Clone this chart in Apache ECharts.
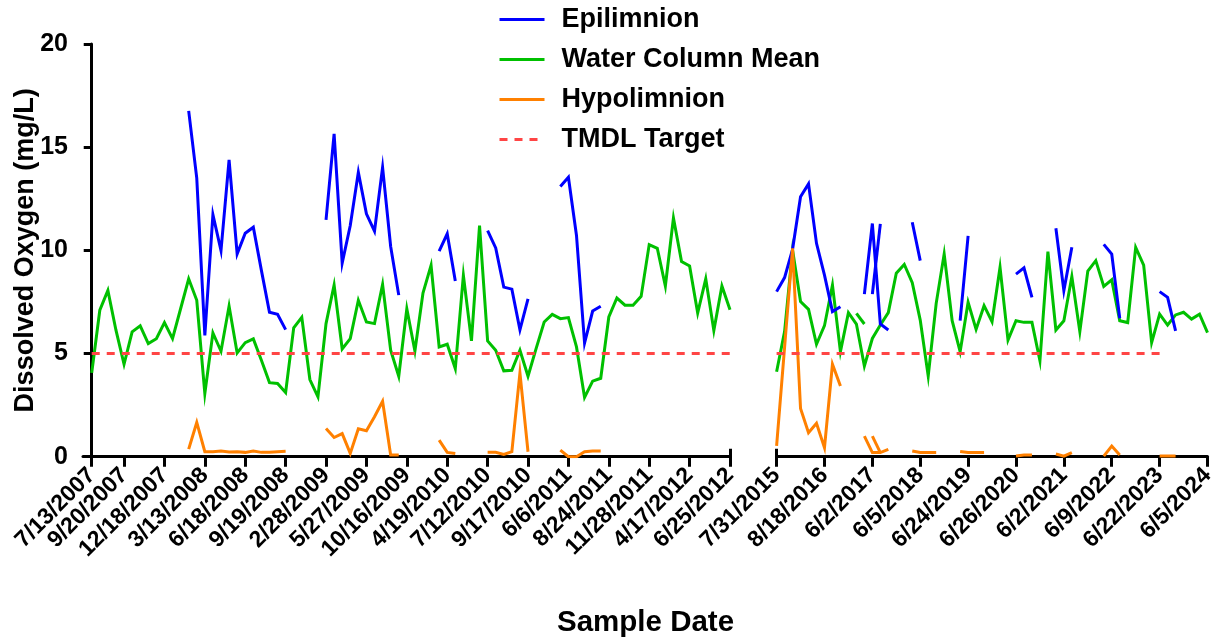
<!DOCTYPE html>
<html><head><meta charset="utf-8">
<script src="https://cdn.jsdelivr.net/npm/echarts@6/dist/echarts.min.js"></script>
<style>html,body{margin:0;padding:0;background:#fff}#c{width:1225px;height:641px}</style>
</head><body><div id="c"></div>
<script>
// ---------- Data ----------
// Left panel: 80 samples, 7/13/2007 .. 6/25/2012
const leftTickIdx = [0,4,9,14,19,24,29,34,39,44,49,54,59,64,69,74,79];
const leftTickLabels = ['7/13/2007','9/20/2007','12/18/2007','3/13/2008','6/18/2008','9/19/2008','2/28/2009','5/27/2009','10/16/2009','4/19/2010','7/12/2010','9/17/2010','6/6/2011','8/24/2011','11/28/2011','4/17/2012','6/25/2012'];

const leftWaterColumn = [
 4.06,7.10,8.06,6.13,4.48,6.05,6.34,5.48,5.72,6.50,
 5.72,7.17,8.62,7.58,3.06,6.00,5.11,7.30,5.03,5.53,
 5.71,4.67,3.59,3.55,3.11,6.24,6.75,3.74,2.90,6.45,
 8.32,5.22,5.72,7.58,6.53,6.45,8.35,5.16,3.90,7.17,
 5.12,7.93,9.27,5.32,5.45,4.27,8.79,5.61,11.20,5.61,
 5.16,4.16,4.19,5.16,3.90,5.24,6.53,6.90,6.69,6.74,
 5.32,2.87,3.66,3.80,6.77,7.69,7.34,7.34,7.77,10.28,
 10.10,8.27,11.57,9.46,9.24,6.96,8.62,6.12,8.27,7.12
];
const leftEpilimnion = [
 null,null,null,null,null,null,null,null,null,null,null,null,
 16.76,13.50,5.88,11.73,9.99,14.38,9.83,10.83,11.12,9.03,7.00,6.90,6.16,
 null,null,null,null,
 11.48,15.64,9.38,11.20,13.78,11.77,10.93,14.02,10.19,7.83,
 null,null,null,null,
 9.96,10.80,8.51,
 null,null,null,
 10.96,10.12,8.22,8.12,6.15,7.65,
 null,null,null,
 13.09,13.54,10.72,5.51,7.06,7.29,
 null,null,null,null,null,null,null,null,null,null,null,null,null,null,null,null
];
const leftHypolimnion = [
 null,null,null,null,null,null,null,null,null,null,null,null,
 0.37,1.66,0.24,0.24,0.27,0.23,0.24,0.21,0.27,0.21,0.21,0.24,0.26,
 null,null,null,null,
 1.37,0.93,1.12,0.16,1.35,1.26,1.94,2.69,0.08,0.08,
 null,null,null,null,
 0.80,0.21,0.16,
 null,null,null,
 0.21,0.21,0.11,0.24,4.06,0.24,
 null,null,null,
 0.32,0.00,0.00,0.24,0.28,0.28,
 null,null,null,null,null,null,null,null,null,null,null,null,null,null,null,null
];

// Right panel: 55 samples, 7/31/2015 .. 6/5/2024
const rightTickIdx = [0,6,12,18,24,30,36,42,48,54];
const rightTickLabels = ['7/31/2015','8/18/2016','6/2/2017','6/5/2018','6/24/2019','6/26/2020','6/2/2021','6/9/2022','6/22/2023','6/5/2024'];

const rightWaterColumn = [
 4.12,6.06,10.02,7.52,7.14,5.45,6.35,8.32,5.09,6.98,
 6.43,4.39,5.73,6.38,6.98,8.89,9.32,8.43,6.62,3.91,
 7.43,9.82,6.59,5.09,7.48,6.17,7.32,6.54,9.18,5.65,
 6.59,6.51,6.51,4.65,9.94,6.14,6.59,8.73,6.06,9.00,
 9.50,8.25,8.57,6.59,6.50,10.14,9.28,5.53,6.91,6.38,
 6.87,7.00,6.67,6.91,6.01
];
const rightEpilimnion = [
 8.00,8.68,10.05,12.60,13.22,10.34,8.80,7.03,7.27,
 null,null,
 7.88,11.30,6.43,6.14,
 null,null,
 11.36,9.50,
 null,null,null,null,
 6.59,10.70,
 null,null,null,null,null,
 8.85,9.15,7.72,
 null,null,
 11.07,8.05,10.15,
 null,null,null,
 10.29,9.82,6.71,
 null,null,null,null,
 8.00,7.72,6.10,
 null,null,null,null
];
const rightHypolimnion = [
 0.52,5.30,10.10,2.34,1.16,1.62,0.44,4.48,3.43,
 null,null,
 1.00,0.20,0.20,0.36,
 null,null,
 0.28,0.20,0.20,0.20,
 null,null,
 0.25,0.20,0.20,0.20,
 null,null,null,
 0.03,0.08,0.08,
 null,null,
 0.13,0.03,0.20,
 null,null,null,
 0.03,0.52,0.08,
 null,null,null,null,
 0.03,0.03,0.03,
 null,null,null,null
];
// Repeated-date short segments in the right panel (start index + values)
const rightEpiRepeat = {start: 12, values: [7.88, 11.28]};
const rightHypoRepeat = {start: 12, values: [1.00, 0.20]};
const rightWcmRepeat = {start: 10, values: [6.95, 6.43]};

const tmdlTarget = 5;
const tmdlLeftEnd = '6/25/2012';
const tmdlRightEnd = '6/22/2023';

// ---------- Chart ----------
const FONT = 'Liberation Sans, Arial, sans-serif';
const C_EPI = '#0000ff', C_WCM = '#00c000', C_HYP = '#ff8000', C_TMDL = '#ff4545';

const pairs = arr => arr.map((v, i) => [i, v]);
const repeatPairs = r => r.values.map((v, k) => [r.start + k, v]);

const leftEndIdx = leftTickIdx[leftTickLabels.indexOf(tmdlLeftEnd)];
const rightEndIdx = rightTickIdx[rightTickLabels.indexOf(tmdlRightEnd)];
const leftLast = leftWaterColumn.length - 1;
const rightLast = rightWaterColumn.length - 1;

function xAxisFor(grid, min, max, idx, labels) {
  return {
    type: 'value', gridIndex: grid, min: min, max: max,
    splitLine: {show: false},
    axisLine: {show: true, onZero: false, lineStyle: {color: '#000', width: 3}},
    axisTick: {show: true, length: 10, lineStyle: {color: '#000', width: 3}, customValues: idx},
    axisLabel: {
      customValues: idx, rotate: 45, margin: 15, hideOverlap: false,
      showMinLabel: true, showMaxLabel: true,
      fontFamily: FONT, fontWeight: 'bold', fontSize: 23, color: '#000',
      formatter: v => labels[idx.indexOf(Math.round(v))] || ''
    }
  };
}
// axis-break marker: an inward tick at the broken end of each panel
function breakAxis(grid, min, max, at) {
  return {
    type: 'value', gridIndex: grid, min: min, max: max, position: 'bottom',
    splitLine: {show: false}, axisLabel: {show: false},
    axisLine: {show: false, onZero: false},
    axisTick: {show: true, inside: true, length: 8, customValues: [at], lineStyle: {color: '#000', width: 3}}
  };
}

function lineSeries(name, color, grid, data, extra) {
  return Object.assign({
    name: name, type: 'line', xAxisIndex: grid, yAxisIndex: grid,
    data: data, symbol: 'none', showSymbol: false, connectNulls: false,
    lineStyle: {color: color, width: 3, join: 'miter'}, itemStyle: {color: color},
    animation: false
  }, extra || {});
}

const chart = echarts.init(document.getElementById('c'), null, {renderer: 'canvas'});
chart.setOption({
  backgroundColor: '#fff',
  animation: false,
  title: {
    text: 'Sample Date', left: 552, top: 603,
    textStyle: {fontFamily: FONT, fontWeight: 'bold', fontSize: 29.5, color: '#000'}
  },
  legend: {
    data: ['Epilimnion', 'Water Column Mean', 'Hypolimnion', 'TMDL Target'],
    orient: 'vertical', left: 493, top: 1, padding: 5,
    itemWidth: 45, itemHeight: 26, itemGap: 13,
    itemStyle: {opacity: 0},
    lineStyle: {width: 3},
    textStyle: {fontFamily: FONT, fontWeight: 'bold', fontSize: 27, color: '#000', padding: [0, 0, 0, 12]}
  },
  grid: [
    {left: 83, right: 495, top: 44, bottom: 184.3, outerBoundsMode: 'none', containLabel: false},
    {left: 776.6, right: 17.5, top: 44, bottom: 184.3, outerBoundsMode: 'none', containLabel: false}
  ],
  xAxis: [
    xAxisFor(0, -1.08, leftLast, leftTickIdx, leftTickLabels),
    xAxisFor(1, 0, rightLast, rightTickIdx, rightTickLabels),
    breakAxis(0, -1.08, leftLast, leftLast),
    breakAxis(1, 0, rightLast, 0)
  ],
  yAxis: [
    {
      type: 'value', gridIndex: 0, min: 0, max: 20, interval: 5,
      name: 'Dissolved Oxygen (mg/L)', nameLocation: 'middle', nameGap: 44, nameRotate: 90,
      nameMoveOverlap: false,
      nameTextStyle: {fontFamily: FONT, fontWeight: 'bold', fontSize: 27, color: '#000'},
      splitLine: {show: false},
      axisLine: {show: true, lineStyle: {color: '#000', width: 3}},
      axisTick: {show: true, length: 8, lineStyle: {color: '#000', width: 3}},
      axisLabel: {margin: 15, fontFamily: FONT, fontWeight: 'bold', fontSize: 25, color: '#000'}
    },
    {type: 'value', gridIndex: 1, min: 0, max: 20, interval: 5, show: false}
  ],
  series: [
    lineSeries('Water Column Mean', C_WCM, 0, pairs(leftWaterColumn)),
    lineSeries('Epilimnion', C_EPI, 0, pairs(leftEpilimnion)),
    lineSeries('Hypolimnion', C_HYP, 0, pairs(leftHypolimnion)),
    lineSeries('TMDL Target', C_TMDL, 0, [[0, tmdlTarget], [leftEndIdx, tmdlTarget]],
      {lineStyle: {color: C_TMDL, width: 3, type: [8, 7]}}),
    lineSeries('Water Column Mean', C_WCM, 1, pairs(rightWaterColumn)),
    lineSeries('Water Column Mean', C_WCM, 1, repeatPairs(rightWcmRepeat)),
    lineSeries('Epilimnion', C_EPI, 1, pairs(rightEpilimnion)),
    lineSeries('Epilimnion', C_EPI, 1, repeatPairs(rightEpiRepeat)),
    lineSeries('Hypolimnion', C_HYP, 1, pairs(rightHypolimnion)),
    lineSeries('Hypolimnion', C_HYP, 1, repeatPairs(rightHypoRepeat)),
    lineSeries('TMDL Target', C_TMDL, 1, [[0, tmdlTarget], [rightEndIdx, tmdlTarget]],
      {lineStyle: {color: C_TMDL, width: 3, type: [8, 7]}})
  ]
});
</script>
</body></html>
